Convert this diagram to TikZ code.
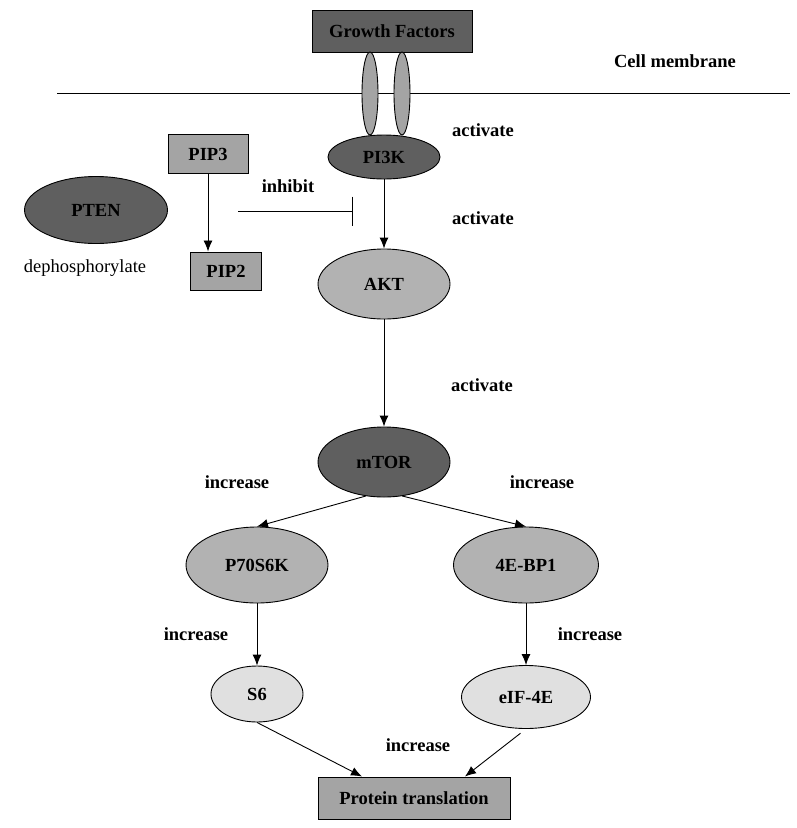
\documentclass[tikz,border=0pt]{standalone}
\usepackage{fontspec}
\setmainfont{Liberation Serif}
\usetikzlibrary{arrows.meta,shapes.geometric,calc}
\definecolor{darkg}{HTML}{5F5F5F}
\definecolor{midg}{HTML}{A4A4A4}
\definecolor{lightg}{HTML}{B2B2B2}
\definecolor{paleg}{HTML}{E0E0E0}
\begin{document}
\begin{tikzpicture}[x=1pt,y=-1pt,
  every node/.style={font=\fontsize{18.5}{20}\selectfont\bfseries},
  box/.style={draw,line width=1pt,inner sep=0pt},
  ell/.style={draw,ellipse,line width=0.9pt,inner sep=0pt},
  lab/.style={inner sep=0pt},
  conn/.style={line width=0.9pt,-{Latex[length=11pt,width=9pt]}},
  plain/.style={line width=0.9pt}]
\useasboundingbox (0,0) rectangle (796,828);
% membrane
\coordinate (m1) at (57,93);
\coordinate (m2) at (790,93);
\draw[plain] (m1) -- (m2);
\node[box,fill=darkg,minimum width=160pt,minimum height=42pt] (GF) at (392,31) {Growth Factors};
\node[ell,fill=midg,minimum width=16pt,minimum height=83pt] (R1) at (370,93.5) {};
\node[ell,fill=midg,minimum width=16pt,minimum height=83pt] (R2) at (402,93.5) {};
\node[lab] (cm) at (675,61) {Cell membrane};
\node[ell,fill=darkg,minimum width=112pt,minimum height=44pt] (PI3K) at (384,157) {PI3K};
\node[lab] (a1) at (483,130) {activate};
\node[box,fill=midg,minimum width=80pt,minimum height=39pt] (PIP3) at (208,154) {PIP3};
\node[ell,fill=darkg,minimum width=143pt,minimum height=67pt] (PTEN) at (96,210) {PTEN};
\node[lab,font=\fontsize{18.5}{20}\selectfont] (deph) at (85,268) {dephosphorylate};
\node[box,fill=midg,minimum width=71pt,minimum height=38pt] (PIP2) at (226,271) {PIP2};
\node[lab] (inh) at (288,186) {inhibit};
\coordinate (i1) at (238,211);
\coordinate (i2) at (352.5,211);
\draw[plain,-{Bar[width=29pt,line width=1pt]}] (i1) -- (i2);
\draw[conn] (PIP3.south) -- (PIP3.south |- PIP2.north);
\node[ell,fill=lightg,minimum width=132pt,minimum height=70pt] (AKT) at (384,284) {AKT};
\node[lab] (a2) at (483,218) {activate};
\draw[conn] (PI3K) -- (AKT);
\node[ell,fill=darkg,minimum width=132pt,minimum height=70pt] (mTOR) at (384,462) {mTOR};
\node[lab] (a3) at (482,385) {activate};
\draw[conn] (AKT) -- (mTOR);
\node[ell,fill=lightg,minimum width=142pt,minimum height=76pt] (P70) at (257,565) {P70S6K};
\node[ell,fill=lightg,minimum width=145pt,minimum height=76pt] (BP1) at (526,565) {4E-BP1};
\node[lab] (i3) at (237,482) {increase};
\node[lab] (i4) at (542,482) {increase};
\draw[conn] ($(mTOR.south)+(-18,-1.5)$) -- (P70.north);
\draw[conn] ($(mTOR.south)+(18,-1.5)$) -- (BP1.north);
\node[ell,fill=paleg,minimum width=92pt,minimum height=56pt] (S6) at (257,694) {S6};
\node[ell,fill=paleg,minimum width=129pt,minimum height=63pt] (eIF) at (526,697) {eIF-4E};
\node[lab] (i5) at (196,634) {increase};
\node[lab] (i6) at (590,634) {increase};
\draw[conn] (P70) -- (S6);
\draw[conn] (BP1) -- (eIF);
\node[box,fill=midg,minimum width=192pt,minimum height=42pt] (PT) at (414,798) {Protein translation};
\node[lab] (i7) at (418,745) {increase};
\draw[conn] (S6.south) -- ($(PT.north)+(-52,0)$);
\draw[conn,shorten <=7pt] (eIF.south) -- ($(PT.north)+(51,0)$);
\end{tikzpicture}
\end{document}
